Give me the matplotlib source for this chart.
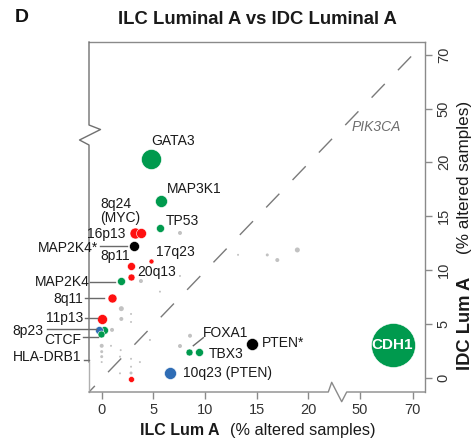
import matplotlib
matplotlib.use('Agg')
import matplotlib.pyplot as plt
import numpy as np

plt.rcParams['font.family'] = ['Liberation Sans', 'DejaVu Sans']

# ---------------- data (% altered samples) ----------------
genes = ['GATA3', 'MAP3K1', 'TP53', '8q24 (MYC)', '16p13', 'MAP2K4*', '17q23', '8p11',
         '20q13', 'MAP2K4', '8q11', '11p13', '8p23', 'HLA-DRB1', 'CTCF', 'FOXA1', 'TBX3',
         'PTEN*', '10q23 (PTEN)', 'CDH1', '']
ilc = [4.77, 5.71, 5.67, 3.2, 3.85, 3.16, 4.74, 2.84,
       2.84, 1.87, 0.97, 0.0, -0.29, 0.22, -0.05, 8.48, 9.45,
       14.52, 6.58, 62.4, 2.84]
idc = [20.26, 16.37, 13.87, 13.42, 13.42, 12.2, 10.86, 10.4,
       9.38, 8.98, 7.42, 5.48, 4.46, 4.46, 4.05, 2.46, 2.46,
       3.14, 0.49, 3.07, -0.09]
radius = [10, 6, 4, 5.5, 5, 5, 2.5, 4,
          3.5, 4, 4.5, 5, 4, 4, 3.5, 3.5, 4,
          6, 6, 22, 3]
kind = ['mut', 'mut', 'mut', 'amp', 'amp', 'both', 'amp', 'amp',
        'amp', 'mut', 'amp', 'amp', 'del', 'mut', 'mut', 'mut', 'mut',
        'both', 'del', 'mut', 'amp']

other_ilc = [7.58, 3.8, 1.9, 1.9, 2.84, 1.0, 0.0, 0.0, 0.0, 0.0, 0.9, 2.84, 2.84, 2.84,
             7.58, 8.55, 18.94, 17.0, 16.03, 7.58, 13.2, 5.64, 4.67, 1.77, 3.7, 1.77, 2.84, 1.84]
other_idc = [13.42, 8.98, 6.43, 5.48, 5.94, 4.47, 3.0, 2.46, 2.0, 1.5, 3.0, 1.8, 1.07, 0.49,
             2.98, 3.93, 11.85, 10.92, 11.39, 9.45, 11.4, 8.0, 3.54, 2.0, 1.5, 0.46, 5.2, 2.6]
other_radius = [2, 2, 2.5, 2, 1, 2, 2, 1.5, 1.5, 1, 1, 1, 1, 1.5,
                2, 2, 2.5, 2, 1.5, 1, 1, 1, 1, 1, 1, 1, 1, 1]

xticks = [0, 5, 10, 15, 20, 50, 70]
yticks = [0, 5, 10, 15, 20, 50, 70]

colors = {'mut': '#009a4e', 'amp': '#ff1010', 'del': '#2f6db5', 'both': '#000000'}


def tx(v):
    v = np.asarray(v, float)
    return np.where(v <= 25, v, 25 + (v - 50) * 0.255)


def ty(v):
    v = np.asarray(v, float)
    return np.where(v <= 25, v, 24.84 + (v - 50) * 0.2505)


def msize(r):
    return (1.44 * np.asarray(r, float)) ** 2


W, H = 476, 440
fig = plt.figure(figsize=(W / 100, H / 100), dpi=100)
L, R, T, B = 89, 425, 42, 392
ax = fig.add_axes([L / W, (H - B) / H, (R - L) / W, (B - T) / H])
ax.set_xlim(-1.229, 31.30)
ax.set_ylim(-1.265, 31.05)


def pa(px, py):
    return ((px - L) / (R - L), (B - py) / (B - T))


# diagonal reference line
ax.plot([0, 1], [0, 1], transform=ax.transAxes, color='#7a7a7a', lw=1.0,
        linestyle=(7.6, (13.7, 13.7)), zorder=1)

# other (grey) points
ax.scatter(tx(other_ilc), ty(other_idc), s=msize(other_radius), color='#c2c2c2',
           edgecolors='none', zorder=2)

# coloured points
order = np.argsort(-np.asarray(radius))
for i in order:
    ax.scatter(tx([ilc[i]]), ty([idc[i]]), s=msize([radius[i]]), color=colors[kind[i]],
               edgecolors='white', linewidths=0.4, zorder=3)

# CDH1 label inside
ci = genes.index('CDH1')
ax.text(float(tx(ilc[ci])), float(ty(idc[ci])), 'CDH1', color='white', fontsize=11,
        fontweight='bold', ha='center', va='center', zorder=5)

# labels (plot coordinates)
lab_fs = 10
labels = [
    ('GATA3', 4.77, 21.91, 'left'),
    ('MAP3K1', 6.29, 17.45, 'left'),
    ('8q24\n(MYC)', -0.16, 15.46, 'left'),
    ('TP53', 6.2, 14.52, 'left'),
    ('16p13', 2.26, 13.3, 'right'),
    ('MAP2K4*', -0.39, 12.05, 'right'),
    ('8p11', -0.16, 11.29, 'left'),
    ('17q23', 5.26, 11.69, 'left'),
    ('20q13', 3.45, 9.84, 'left'),
    ('MAP2K4', -1.2, 8.86, 'right'),
    ('8q11', -1.84, 7.29, 'right'),
    ('11p13', -1.78, 5.54, 'right'),
    ('8p23', -5.65, 4.4, 'right'),
    ('CTCF', -1.94, 3.54, 'right'),
    ('HLA-DRB1', -1.94, 2.0, 'right'),
    ('FOXA1', 9.84, 4.21, 'left'),
    ('TBX3', 10.32, 2.22, 'left'),
    ('PTEN*', 15.49, 3.23, 'left'),
    ('10q23 (PTEN)', 7.84, 0.49, 'left'),
]
for txt, x, y, ha in labels:
    ax.text(x, y, txt, fontsize=lab_fs, ha=ha, va='center', color='#1a1a1a',
            multialignment='left', linespacing=1.05, clip_on=False, zorder=6)

ax.text(24.2, 23.23, 'PIK3CA', fontsize=10, style='italic', color='#6e6e6e',
        ha='left', va='center', zorder=6)

leaders = [
    ((-0.165, 12.22), (2.42, 12.22)),
    ((-1.13, 8.86), (1.29, 8.86)),
    ((-1.62, 7.39), (0.2, 7.39)),
    ((-1.62, 5.54), (-0.48, 5.54)),
    ((-5.32, 4.52), (-0.55, 4.52)),
    ((-1.78, 3.84), (-0.33, 3.84)),
    ((-1.71, 1.69), (-1.23, 1.69)),
    ((8.87, 3.01), (9.84, 3.75)),
]
for (x0, y0), (x1, y1) in leaders:
    ax.plot([x0, x1], [y0, y1], color='#6a6a6a', lw=1.0, clip_on=False, zorder=4)

# spines
spc = '#8a8a8a'
for s in ['left', 'bottom']:
    ax.spines[s].set_visible(False)
for s in ['top', 'right']:
    ax.spines[s].set_color(spc)
    ax.spines[s].set_linewidth(1.0)

left_pts = [pa(89, 42), pa(89, 125), pa(100.5, 129.5), pa(79.5, 140), pa(89, 145), pa(89, 362)]
ax.plot([p[0] for p in left_pts], [p[1] for p in left_pts], transform=ax.transAxes,
        color='#707070', lw=1.0, clip_on=False, zorder=4)
lp2 = [pa(89, 362), pa(89, 392)]
ax.plot([p[0] for p in lp2], [p[1] for p in lp2], transform=ax.transAxes,
        color='#b0b0b0', lw=1.0, clip_on=False, zorder=4)
bot_pts = [pa(89, 392), pa(328.3, 392), pa(331.7, 382.3), pa(341.7, 401.7), pa(346.7, 392), pa(425, 392)]
ax.plot([p[0] for p in bot_pts], [p[1] for p in bot_pts], transform=ax.transAxes,
        color=spc, lw=1.0, clip_on=False, zorder=4)

# ticks
ax.set_xticks(tx(xticks))
ax.set_xticklabels([str(t) for t in xticks])
ax.yaxis.tick_right()
ax.set_yticks(ty(yticks))
ax.set_yticklabels([str(t) for t in yticks], rotation=90, va='center')
ax.tick_params(axis='both', direction='out', length=5, width=1.0, color=spc,
               labelsize=10.5, labelcolor='#333333')
ax.tick_params(axis='x', pad=3)
ax.tick_params(axis='y', pad=3.5)

# axis labels
fig.text(180 / W, 1 - 430 / H, 'ILC Lum A', fontsize=11.5, fontweight='bold',
         ha='center', va='center', color='#1a1a1a')
fig.text(302.5 / W, 1 - 430 / H, '(% altered samples)', fontsize=11.7,
         ha='center', va='center', color='#1a1a1a')
fig.text(465 / W, 1 - 323.3 / H, 'IDC Lum A', fontsize=13.2, fontweight='bold',
         ha='center', va='center', rotation=90, color='#1a1a1a')
fig.text(465 / W, 1 - 177.5 / H, '(% altered samples)', fontsize=12.3,
         ha='center', va='center', rotation=90, color='#1a1a1a')

# title and panel letter
fig.text(257.5 / W, 1 - 20 / H, 'ILC Luminal A vs IDC Luminal A', fontsize=13.3,
         fontweight='bold', ha='center', va='center', color='#1a1a1a')
fig.text(15 / W, 1 - 18 / H, 'D', fontsize=14, fontweight='bold', ha='left',
         va='center', color='#111111')

fig.savefig('out.png', dpi=100)
